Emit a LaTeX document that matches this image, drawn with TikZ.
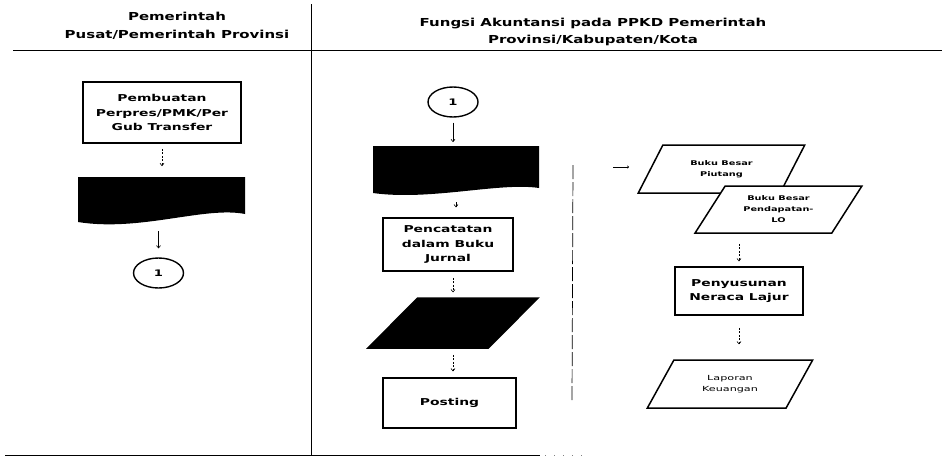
\documentclass[tikz,border=0pt]{standalone}
\usepackage{fontspec}
\usetikzlibrary{shapes.geometric,arrows.meta,calc}
\newfontfamily\headfont[FakeStretch=1.36]{DejaVu Sans}
\newfontfamily\boxfont[FakeStretch=1.46]{DejaVu Sans}
\newfontfamily\smallfont[FakeStretch=1.5]{DejaVu Sans}
\newfontfamily\tinyfont[FakeStretch=1.6]{DejaVu Sans}

\tikzset{
  headtxt/.style={align=center, inner sep=0pt,
    font=\fontsize{11}{17.5}\headfont\bfseries},
  procbox/.style={draw, line width=1.5pt, inner sep=0pt, align=center,
    font=\fontsize{9.5}{14.5}\boxfont\bfseries},
  connector/.style={draw, ellipse, line width=1.4pt, inner sep=0pt,
    minimum width=50pt, minimum height=30pt,
    font=\fontsize{9}{10}\boxfont\bfseries},
  ioshape/.style={draw, trapezium, trapezium left angle=55,
    trapezium right angle=125, trapezium stretches=true,
    line width=1.5pt, inner sep=1pt, align=center, fill=white},
  smalltxt/.style={font=\fontsize{6.5}{11}\smallfont\bfseries},
  tinytxt/.style={font=\fontsize{7}{11}\tinyfont},
  anchorbox/.style={inner sep=0pt, outer sep=0pt},
  flow/.style={-{To[length=3pt,width=4.5pt]}, line width=0.6pt},
  flowd/.style={flow, dash pattern=on 2pt off 1.5pt},
  rule/.style={line width=1pt}
}

\begin{document}
\begin{tikzpicture}[x=1pt,y=-1pt]
\useasboundingbox (0,0) rectangle (942,461);

% lane frame
\coordinate (topL) at (13,50);
\coordinate (topR) at (942,50);
\coordinate (divT) at (311,4);
\coordinate (divB) at (311,455);
\coordinate (botL) at (5,455);
\coordinate (botR) at (540,455);
\coordinate (botD1) at (545,455);
\coordinate (botD2) at (585,455);
\draw[rule] (topL) -- (topR);
\draw[rule] (divT) -- (divB);
\draw[rule] (botL) -- (botR);
\draw[line width=0.5pt, dash pattern=on 1pt off 8pt, gray] (botD1) -- (botD2);

% lane headers
\node[headtxt] (headL) at (177,26) {Pemerintah\\Pusat/Pemerintah Provinsi};
\node[headtxt] (headR) at (593,32) {Fungsi Akuntansi pada PPKD Pemerintah\\Provinsi/Kabupaten/Kota};

% ---- left lane ----
\node[procbox, minimum width=158pt, minimum height=61pt] (perpres) at (162,112.5)
  {Pembuatan\\Perpres/PMK/Per\\Gub Transfer};
\node[anchorbox, minimum width=167pt, minimum height=46pt] (docA) at (161.5,200) {};
\fill (78,177) -- (245,177) -- (245,214)
  .. controls (205,206) and (140,232) .. (78,222) -- cycle;
\node[connector] (conA) at (158.5,273) {1};

\draw[flowd, shorten <=5pt, shorten >=11pt] (perpres) -- (perpres |- docA.north);
\draw[flow, shorten <=8pt, shorten >=9pt] (conA |- docA.south) -- (conA.north);

% ---- middle lane ----
\node[connector] (conB) at (453,102) {1};
\node[anchorbox, minimum width=166pt, minimum height=48pt] (docB) at (456,170) {};
\fill (373,146) -- (539,146) -- (539,188)
  .. controls (500,182) and (430,201) .. (373,193) -- cycle;
\node[procbox, minimum width=130pt, minimum height=53pt] (jurnal) at (448,244.5)
  {Pencatatan\\dalam Buku\\Jurnal};
\node[ioshape, fill=black, minimum width=170pt, minimum height=50pt] (ledger) at (453,323) {};
\node[procbox, minimum width=133pt, minimum height=50pt] (posting) at (449.5,403) {Posting};

\draw[flow, shorten <=5pt, shorten >=4pt] (conB) -- (conB |- docB.north);
\draw[flow, shorten <=8pt, shorten >=10pt] (docB) -- (docB |- jurnal.north);
\draw[flowd, shorten <=6pt, shorten >=5pt] (jurnal.south -| ledger.north) -- (ledger.north);
\draw[flowd, shorten <=6pt, shorten >=6pt] (ledger) -- (ledger |- posting.north);

% ---- right lane ----
\coordinate (vtop) at (573,165);
\coordinate (vbot) at (572,400);
\draw[line width=0.7pt, dash pattern=on 14pt off 3pt] (vtop) -- (vbot);
\coordinate (tickA) at (613,167);
\coordinate (tickB) at (629,167);
\draw[-{To[length=2pt,width=3pt]}, line width=0.6pt] (tickA) -- (tickB);

\node[ioshape, smalltxt, minimum width=167pt, minimum height=48pt] (bbp) at (721.5,169)
  {Buku Besar\\Piutang};
\node[ioshape, smalltxt, minimum width=167pt, minimum height=47pt] (bbl) at (778.5,209.5)
  {Buku Besar\\Pendapatan-\\LO};
\node[procbox, minimum width=128pt, minimum height=48pt] (neraca) at (739,291)
  {Penyusunan\\Neraca Lajur};
\node[ioshape, tinytxt, minimum width=166pt, minimum height=48pt] (lapkeu) at (730,384)
  {Laporan\\Keuangan};

\draw[flowd, shorten <=10pt, shorten >=5pt] (neraca.north |- bbl.south) -- (neraca.north);
\draw[flowd, shorten <=12pt, shorten >=15pt] (neraca) -- (neraca |- lapkeu.north);
\end{tikzpicture}
\end{document}
